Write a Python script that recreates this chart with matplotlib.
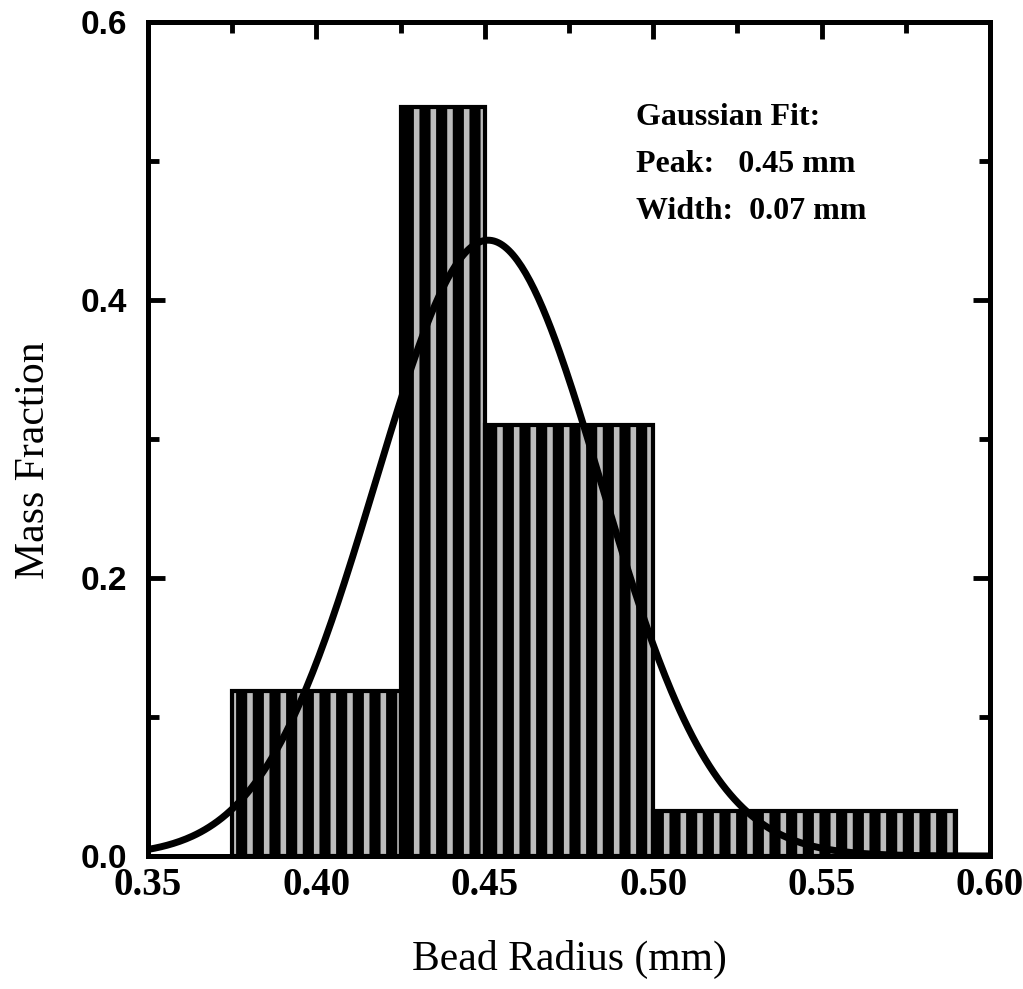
import numpy as np
import matplotlib
matplotlib.use('Agg')
import matplotlib.pyplot as plt
from matplotlib.ticker import MultipleLocator, FormatStrFormatter


# Histogram bins of bead radius (mm) and mass fraction per bin
bin_left  = [0.375, 0.425, 0.450, 0.500]
bin_right = [0.425, 0.450, 0.500, 0.590]
mass_frac = [0.119, 0.539, 0.310, 0.032]

# Gaussian fit: y = A exp(-2 (x - xc)^2 / w^2)
fit_peak   = 0.451
fit_width  = 0.067
fit_height = 0.443

x_ticks = [0.35, 0.40, 0.45, 0.50, 0.55, 0.60]
y_ticks = [0.0, 0.2, 0.4, 0.6]


plt.rcParams['hatch.linewidth'] = 8.0
serif = ['Liberation Serif', 'DejaVu Serif']
sans  = ['Liberation Sans', 'DejaVu Sans']

fig = plt.figure(figsize=(10.23, 9.89), dpi=100)
ax = fig.add_axes([0.1447, 0.1345, 0.8230, 0.8433])

left  = np.array(bin_left)
width = np.array(bin_right) - left
ax.bar(left, mass_frac, width=width, align='edge',
       facecolor='#bcbcbc', edgecolor='black', hatch='|',
       linewidth=3, zorder=2)

xs = np.linspace(0.35, 0.60, 400)
ys = fit_height * np.exp(-2 * (xs - fit_peak) ** 2 / fit_width ** 2)
ax.plot(xs, ys, color='black', lw=5, solid_capstyle='round', zorder=3)

# Fit annotation
txt = dict(fontsize=23, fontweight='bold', family=serif, va='baseline')
ax.text(0.4949, 0.526, 'Gaussian Fit:', **txt)
ax.text(0.4949, 0.492, f'Peak:   {fit_peak:.2f} mm', **txt)
ax.text(0.4949, 0.458, f'Width:  {fit_width:.2f} mm', **txt)

ax.set_xlim(0.35, 0.60)
ax.set_ylim(0.0, 0.6)
ax.set_xticks(x_ticks)
ax.set_yticks(y_ticks)
ax.xaxis.set_minor_locator(MultipleLocator(0.025))
ax.yaxis.set_minor_locator(MultipleLocator(0.1))
ax.xaxis.set_major_formatter(FormatStrFormatter('%.2f'))
ax.yaxis.set_major_formatter(FormatStrFormatter('%.1f'))

ax.tick_params(which='both', direction='in', top=True, right=True, width=3.5)
ax.tick_params(which='major', length=12)
ax.tick_params(which='minor', length=8)
ax.tick_params(axis='x', which='major', pad=8)
ax.tick_params(axis='y', which='major', pad=15)

for lab in ax.get_xticklabels():
    lab.set_family(serif)
    lab.set_fontweight('bold')
    lab.set_fontsize(28)
for lab in ax.get_yticklabels():
    lab.set_family(sans)
    lab.set_fontweight('bold')
    lab.set_fontsize(24)

for sp in ax.spines.values():
    sp.set_linewidth(3.6)

ax.set_xlabel('Bead Radius (mm)', fontsize=30, family=serif, labelpad=26)
ax.set_ylabel('Mass Fraction', fontsize=30, family=serif)
ax.yaxis.set_label_coords(-0.113, 0.475)

fig.savefig('out.png', dpi=100)
